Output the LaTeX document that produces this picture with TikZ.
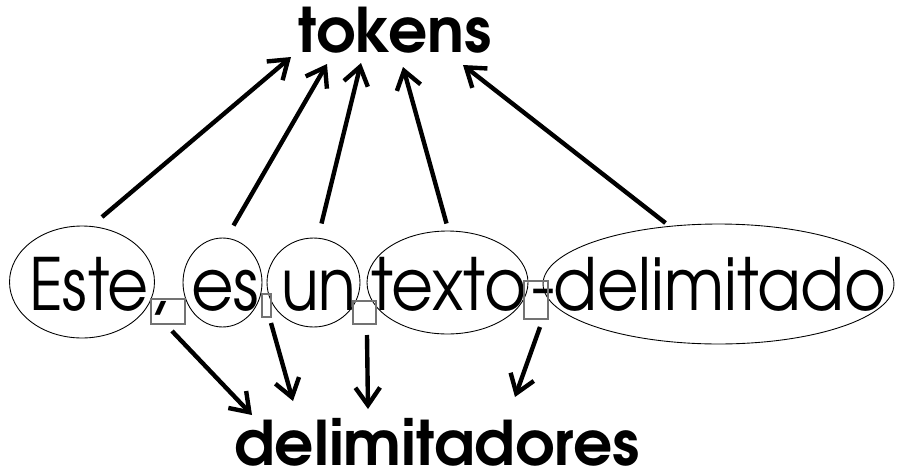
\documentclass[tikz,border=0pt]{standalone}
\usepackage{fontspec}
\setmainfont{TeX Gyre Adventor}
\usetikzlibrary{arrows.meta,calc,shapes.geometric}

\newcommand{\fitword}[2]{\resizebox{#1}{\height}{#2}}

\tikzset{
  tok/.style={draw, ellipse, line width=0.5pt, inner sep=0pt},
  delim/.style={draw=black!55, rectangle, line width=0.6pt, inner sep=0pt},
  word/.style={anchor=base, inner sep=0pt, font=\fontsize{41}{41}\selectfont},
  title/.style={inner sep=0pt, font=\fontsize{35}{35}\selectfont\bfseries},
  arr/.style={line width=2.5pt, -{Straight Barb[length=10pt,width=14pt]}}
}

\begin{document}
\begin{tikzpicture}[x=0.02cm, y=-0.02cm]
    \useasboundingbox (0, 0) rectangle (897, 474);
    % labels
    \node[title] (tokens) at (395, 30) {tokens};
    \node[title] (delimitadores) at (437, 442) {delimitadores};
    % the text, word by word
    \node[word] (wEste) at (89, 310) {\fitword{2.4cm}{Este}};
    \node[word] (wComma) at (158, 310) {,};
    \node[word] (wEs) at (225, 310) {\fitword{1.36cm}{es}};
    \node[word] (wUn) at (319, 310) {\fitword{1.5cm}{un}};
    \node[word] (wTexto) at (449, 310) {\fitword{3.1cm}{texto}};
    \node[word] (wHyph) at (543, 310) {-};
    \node[word] (wDelim) at (720, 310) {\fitword{6.66cm}{delimitado}};
    % tokens
    \node[tok, minimum width=2.9cm, minimum height=2.24cm] (este) at (82, 282) {};
    \node[tok, minimum width=1.58cm, minimum height=1.78cm] (es) at (222.5, 282.5) {};
    \node[tok, minimum width=1.86cm, minimum height=1.78cm] (un) at (313.5, 282.5) {};
    \node[tok, minimum width=3.22cm, minimum height=2.06cm] (texto) at (447.5, 282.5) {};
    \node[tok, minimum width=7.02cm, minimum height=2.4cm] (delim) at (718.5, 284) {};
    % delimiters
    \node[delim, minimum width=0.68cm, minimum height=0.5cm] (dcomma) at (168, 311.5) {};
    \node[delim, minimum width=0.18cm, minimum height=0.46cm] (dsp1) at (266.5, 305.5) {};
    \node[delim, minimum width=0.46cm, minimum height=0.46cm] (dsp2) at (364.5, 312.5) {};
    \node[delim, minimum width=0.48cm, minimum height=0.76cm] (dhyph) at (536, 300) {};
    % arrows up
    \draw[arr] ($(este)+(20,-65)$) -- ($(tokens)+(-104,27)$);
    \draw[arr] ($(es)+(11,-57)$) -- ($(tokens)+(-68,34)$);
    \draw[arr] ($(un)+(8,-59)$) -- ($(tokens)+(-34,33)$);
    \draw[arr] ($(texto)+(-1,-59)$) -- ($(tokens)+(8,37)$);
    \draw[arr] ($(delim)+(-53,-61)$) -- ($(tokens)+(68,35)$);
    % arrows down
    \draw[arr] ($(dcomma)+(4,19.5)$) -- ($(delimitadores)+(-185,-27)$);
    \draw[arr] ($(dsp1)+(4.5,17.5)$) -- ($(delimitadores)+(-144,-41)$);
    \draw[arr] ($(dsp2)+(2.5,22.5)$) -- ($(delimitadores)+(-69,-33)$);
    \draw[arr] ($(dhyph)+(4,27)$) -- ($(delimitadores)+(78,-45)$);
\end{tikzpicture}
\end{document}
